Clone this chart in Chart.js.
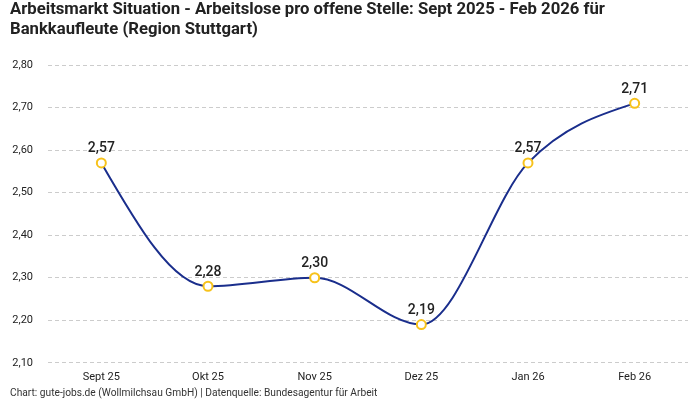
<!DOCTYPE html>
<html>
<head>
<meta charset="utf-8">
<script src="https://cdn.jsdelivr.net/npm/chart.js@4"></script>
<style>
  html, body { margin: 0; padding: 0; background: #fff; }
  #wrap { width: 700px; height: 400px; }
</style>
</head>
<body>
<div id="wrap"><canvas id="lineChart"></canvas></div>
<script>
const labels = ['Sept 25', 'Okt 25', 'Nov 25', 'Dez 25', 'Jan 26', 'Feb 26'];
const values = [2.57, 2.28, 2.30, 2.19, 2.57, 2.71];
const titleLines = [
  'Arbeitsmarkt Situation - Arbeitslose pro offene Stelle: Sept 2025 - Feb 2026 für',
  'Bankkaufleute (Region Stuttgart)'
];
const footerText = 'Chart: gute-jobs.de (Wollmilchsau GmbH) | Datenquelle: Bundesagentur für Arbeit';

const fontFamily = 'Roboto, "Noto Sans", sans-serif';

function fmt(v) {
  return v.toFixed(2).replace('.', ',');
}

// Endpunkte wie d3 monotoneX (flacher am Rand)
const monotoneEnds = {
  id: 'monotoneEnds',
  beforeDatasetDraw(chart, args) {
    const meta = args.meta;
    const line = meta.dataset;
    line.updateControlPoints(chart.chartArea, meta.iScale.axis);
    const pts = meta.data;
    const n = pts.length;
    if (n < 3) return;
    // Anfang
    let h = pts[1].x - pts[0].x;
    let s = (pts[1].y - pts[0].y) / h;
    let m1 = (pts[1].cp2y - pts[1].y) / (pts[1].cp2x - pts[1].x);
    let m0 = (3 * s - m1) / 2;
    if (m0 * s <= 0) m0 = 0;
    pts[0].cp2x = pts[0].x + h / 3;
    pts[0].cp2y = pts[0].y + m0 * h / 3;
    // Ende
    const a = pts[n - 2], b = pts[n - 1];
    h = b.x - a.x;
    s = (b.y - a.y) / h;
    m1 = (a.cp2y - a.y) / (a.cp2x - a.x);
    let mn = (3 * s - m1) / 2;
    if (mn * s <= 0) mn = 0;
    b.cp1x = b.x - h / 3;
    b.cp1y = b.y - mn * h / 3;
  }
};

// Werte über den Punkten
const valueLabels = {
  id: 'valueLabels',
  afterDatasetsDraw(chart) {
    const ctx = chart.ctx;
    const meta = chart.getDatasetMeta(0);
    ctx.save();
    ctx.font = '500 14px ' + fontFamily;
    ctx.fillStyle = '#222';
    ctx.textAlign = 'center';
    ctx.textBaseline = 'bottom';
    meta.data.forEach((pt, i) => {
      ctx.fillText(fmt(values[i]), pt.x, pt.y - 7);
    });
    ctx.restore();
  }
};

// Quellenangabe unten links
const footer = {
  id: 'footer',
  afterDraw(chart) {
    const ctx = chart.ctx;
    ctx.save();
    ctx.font = '10.2px ' + fontFamily;
    ctx.fillStyle = '#333';
    ctx.textAlign = 'left';
    ctx.textBaseline = 'middle';
    ctx.fillText(footerText, 10, 393);
    ctx.restore();
  }
};

var ctx = document.getElementById('lineChart');

var lineChart = new Chart(ctx, {
  type: 'line',
  data: {
    labels: labels,
    datasets: [{
      data: values,
      borderColor: '#1a2e8c',
      borderWidth: 2,
      cubicInterpolationMode: 'monotone',
      pointBackgroundColor: '#fff',
      pointBorderColor: '#f7c21b',
      pointBorderWidth: 2,
      pointRadius: 4.5,
      fill: false
    }]
  },
  options: {
    responsive: true,
    maintainAspectRatio: false,
    animation: false,
    layout: { padding: { left: 10, right: 12, top: 0, bottom: 16 } },
    plugins: {
      legend: { display: false },
      tooltip: { enabled: false },
      title: {
        display: true,
        text: titleLines,
        align: 'start',
        color: '#222',
        font: { family: fontFamily, size: 16.7, weight: 'bold', lineHeight: 1.2 },
        padding: { top: 0, bottom: 25 }
      }
    },
    scales: {
      x: {
        offset: true,
        grid: { display: false },
        border: { display: false },
        ticks: { color: '#222', font: { family: fontFamily, size: 11 }, padding: 0 }
      },
      y: {
        min: 2.1,
        max: 2.8,
        afterFit(scale) { scale.width = 38; },
        border: { display: false, dash: [4, 3] },
        grid: { color: '#cccccc', drawTicks: false },
        ticks: {
          stepSize: 0.1,
          padding: 15,
          color: '#222',
          font: { family: fontFamily, size: 11 },
          callback: v => fmt(v)
        }
      }
    }
  },
  plugins: [monotoneEnds, valueLabels, footer]
});
</script>
</body>
</html>
